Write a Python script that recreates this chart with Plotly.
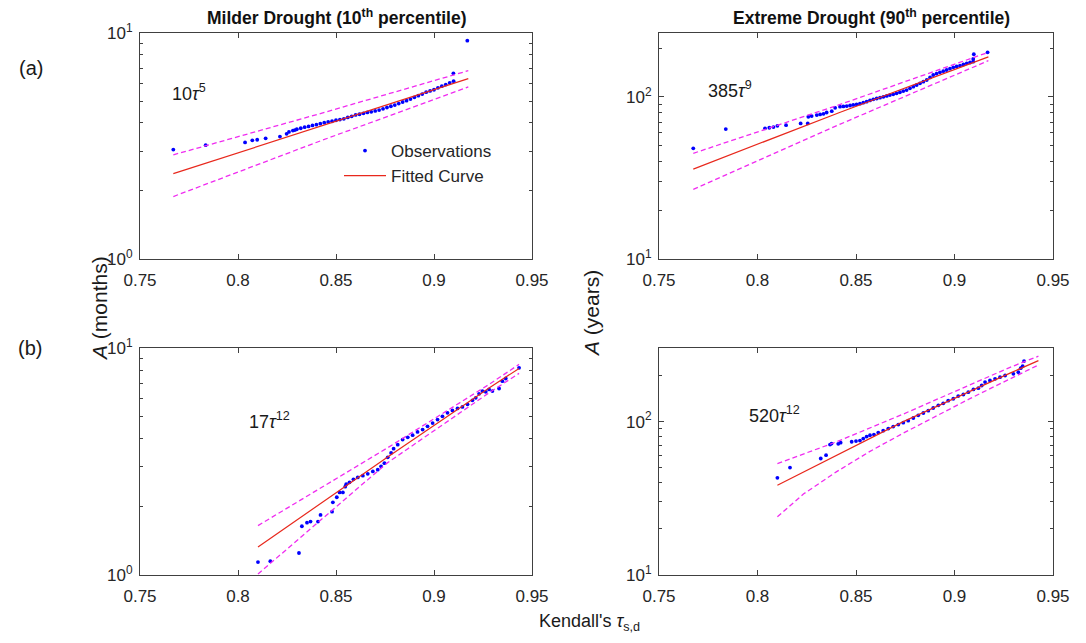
import plotly.graph_objects as go

W, H = 1086, 643

# ---------------- data: (a) Milder drought, A in months ----------------
mild_a_tau = [0.767, 0.7835, 0.8036, 0.8073, 0.8098, 0.8141, 0.8214, 0.8248, 0.826,
              0.828, 0.829, 0.830, 0.832, 0.834, 0.836, 0.838, 0.840, 0.842, 0.844, 0.846,
              0.848, 0.850, 0.852, 0.854, 0.856, 0.858, 0.860, 0.862, 0.864, 0.866,
              0.868, 0.870, 0.872, 0.874, 0.876, 0.878, 0.880, 0.882, 0.884, 0.886,
              0.888, 0.890, 0.892, 0.894, 0.896, 0.898, 0.900, 0.902, 0.904, 0.906,
              0.908, 0.910, 0.9099, 0.917]
mild_a_A = [3.05, 3.19, 3.28, 3.35, 3.37, 3.42, 3.48, 3.58, 3.65,
            3.70, 3.72, 3.75, 3.79, 3.83, 3.86, 3.90, 3.93, 3.97, 4.01, 4.04,
            4.07, 4.11, 4.14, 4.17, 4.23, 4.28, 4.34, 4.37, 4.41, 4.45,
            4.48, 4.52, 4.56, 4.62, 4.68, 4.74, 4.80, 4.87, 4.95, 5.02,
            5.10, 5.19, 5.28, 5.37, 5.47, 5.54, 5.61, 5.72, 5.82, 5.91,
            6.02, 6.12, 6.63, 9.25]
mild_a_fit_tau = [0.767, 0.842, 0.9175]
mild_a_fit = [2.385, 3.86, 6.28]
mild_a_up = [2.89, 4.40, 6.81]
mild_a_lo = [1.89, 3.33, 5.77]

# ---------------- data: (a) Extreme drought, A in years ----------------
ext_a_tau = [0.7674, 0.7839, 0.8038, 0.8060, 0.8081, 0.8101, 0.8145, 0.8219, 0.8255,
             0.8258, 0.8275, 0.8301, 0.8318, 0.8335, 0.8351, 0.8377, 0.8394, 0.8419,
             0.8436, 0.8453, 0.8470, 0.8486, 0.8503, 0.8520, 0.8537, 0.8554, 0.8571,
             0.8588, 0.8605, 0.8622, 0.8639, 0.8656, 0.8672, 0.8689, 0.8706, 0.8723,
             0.8740, 0.8757, 0.8774, 0.8791, 0.8808, 0.8825, 0.8842, 0.8859, 0.8876,
             0.8892, 0.8909, 0.8926, 0.8943, 0.8960, 0.8977, 0.8994, 0.9011, 0.9028,
             0.9045, 0.9062, 0.9079, 0.9095, 0.9095, 0.9098, 0.9168]
ext_a_A = [48.2, 63.4, 64.1, 64.6, 65.2, 66.4, 67.0, 68.7, 68.7,
           75.5, 76.2, 77.3, 78.0, 78.7, 80.2, 81.7, 85.7, 87.1,
           87.5, 87.9, 88.6, 89.3, 90.1, 91.0, 92.3, 93.6, 95.2,
           96.8, 97.9, 99.1, 100.3, 101.5, 102.7, 103.9, 105.4, 107.0,
           108.7, 110.4, 113.1, 115.8, 118.6, 121.4, 124.3, 127.3, 132.0,
           136.7, 139.3, 142.0, 144.4, 146.8, 149.6, 152.4, 154.2, 156.0,
           158.7, 161.4, 163.3, 165.2, 171.6, 183.6, 188.7]
ext_a_fit_tau = [0.7674, 0.842, 0.9172]
ext_a_fit = [35.9, 80.5, 177.0]
ext_a_up = [44.9, 90.0, 188.7]
ext_a_lo = [26.9, 68.0, 167.5]

# ---------------- data: (b) Milder drought, A in months ----------------
mild_b_tau = [0.8102, 0.8165, 0.8311, 0.8326, 0.8352, 0.8370, 0.8408, 0.8421, 0.8480,
              0.8484, 0.8504, 0.8518, 0.8535, 0.8547, 0.8552, 0.8569, 0.8589, 0.8611,
              0.8637, 0.8662, 0.8688, 0.8713, 0.8730, 0.8747, 0.8764, 0.8781, 0.8794,
              0.8815, 0.8840, 0.8866, 0.8891, 0.8916, 0.8942, 0.8967, 0.8993, 0.9018,
              0.9043, 0.9069, 0.9094, 0.9120, 0.9145, 0.9171, 0.9196, 0.9213, 0.9230,
              0.9247, 0.9264, 0.9281, 0.9298, 0.9332, 0.9349, 0.9366, 0.9434]
mild_b_A = [1.14, 1.15, 1.25, 1.64, 1.70, 1.72, 1.72, 1.84, 1.90,
            2.09, 2.20, 2.31, 2.31, 2.45, 2.51, 2.56, 2.64, 2.69,
            2.74, 2.79, 2.86, 2.91, 3.01, 3.11, 3.30, 3.45, 3.60,
            3.75, 3.95, 4.04, 4.13, 4.27, 4.37, 4.52, 4.67, 4.84,
            5.00, 5.18, 5.31, 5.42, 5.50, 5.65, 5.88, 6.03, 6.28,
            6.46, 6.41, 6.57, 6.46, 6.63, 7.14, 7.34, 8.18]
mild_b_fit_tau = [0.8102, 0.876, 0.9281, 0.9434]
mild_b_fit = [1.33, 3.29, 6.67, 8.13]
mild_b_up = [1.65, 3.62, 6.91, 8.47]
mild_b_lo = [1.01, 3.11, 6.35, 7.73]

# ---------------- data: (b) Extreme drought, A in years ----------------
ext_b_tau = [0.8101, 0.8165, 0.8321, 0.8348, 0.8368, 0.8376, 0.8410, 0.8422, 0.8478,
             0.8500, 0.8520, 0.8537, 0.8554, 0.8571, 0.8591, 0.8613, 0.8638, 0.8664,
             0.8689, 0.8715, 0.8740, 0.8765, 0.8791, 0.8816, 0.8842, 0.8867, 0.8892,
             0.8918, 0.8943, 0.8968, 0.8994, 0.9019, 0.9045, 0.9070, 0.9096, 0.9121,
             0.9138, 0.9155, 0.9180, 0.9206, 0.9231, 0.9257, 0.9299, 0.9324, 0.9336,
             0.9346, 0.9353]
ext_b_A = [43.0, 50.2, 57.5, 60.4, 70.9, 71.9, 71.7, 72.9, 73.9,
           74.7, 75.2, 77.5, 79.9, 81.5, 82.3, 84.8, 87.3, 90.1,
           92.8, 95.6, 98.5, 101.5, 105.6, 109.9, 113.8, 117.9, 122.7,
           127.7, 131.6, 136.9, 141.0, 146.8, 150.3, 155.7, 162.2, 165.3,
           172.0, 181.0, 185.5, 190.1, 194.9, 199.8, 205.0, 210.0, 223.0,
           230.0, 248.0]
ext_b_fit_tau = [0.8101, 0.874, 0.9282, 0.9426]
ext_b_fit = [38.5, 100.0, 207.0, 250.0]
ext_b_up_tau = [0.8101, 0.8402, 0.874, 0.9078, 0.9282, 0.9426]
ext_b_up = [53.3, 73.9, 112.0, 174.0, 226.0, 267.0]
ext_b_lo_tau = [0.8101, 0.8233, 0.8402, 0.8571, 0.874, 0.8909, 0.9078, 0.9282, 0.9426]
ext_b_lo = [24.0, 33.7, 47.2, 64.0, 84.1, 109.6, 141.2, 190.0, 234.0]

x_ticks = [0.75, 0.8, 0.85, 0.9, 0.95]
x_ticktext = ["0.75", "0.8", "0.85", "0.9", "0.95"]

# ---------------- styling ----------------
FONT = "Arial, 'Liberation Sans', sans-serif"
TXT = "#262626"
FRAME = "#404040"
BLUE = "#0000FF"
RED = "#E8281C"
MAG = "#F02CF0"


def px_x(p):
    return p / W


def px_y(p):
    return 1 - p / H


fig = go.Figure()

panels = [
    ("x", "y", mild_a_tau, mild_a_A, mild_a_fit_tau, mild_a_fit, mild_a_fit_tau, mild_a_up, mild_a_fit_tau, mild_a_lo),
    ("x2", "y2", ext_a_tau, ext_a_A, ext_a_fit_tau, ext_a_fit, ext_a_fit_tau, ext_a_up, ext_a_fit_tau, ext_a_lo),
    ("x3", "y3", mild_b_tau, mild_b_A, mild_b_fit_tau, mild_b_fit, mild_b_fit_tau, mild_b_up, mild_b_fit_tau, mild_b_lo),
    ("x4", "y4", ext_b_tau, ext_b_A, ext_b_fit_tau, ext_b_fit, ext_b_up_tau, ext_b_up, ext_b_lo_tau, ext_b_lo),
]

for i, (xa, ya, t, a, ft, f, ut, u, lt, lo) in enumerate(panels):
    first = i == 0
    fig.add_trace(go.Scatter(x=t, y=a, mode="markers", xaxis=xa, yaxis=ya,
                             marker=dict(color=BLUE, size=3.8, line=dict(width=0)),
                             name="Observations", showlegend=first))
    fig.add_trace(go.Scatter(x=ft, y=f, mode="lines", xaxis=xa, yaxis=ya,
                             line=dict(color=RED, width=1.2),
                             name="Fitted Curve", showlegend=first))
    fig.add_trace(go.Scatter(x=ut, y=u, mode="lines", xaxis=xa, yaxis=ya,
                             line=dict(color=MAG, width=1.3, dash="5px,3px"),
                             showlegend=False))
    fig.add_trace(go.Scatter(x=lt, y=lo, mode="lines", xaxis=xa, yaxis=ya,
                             line=dict(color=MAG, width=1.3, dash="5px,3px"),
                             showlegend=False))

# axes geometry (pixels)
col_x = [(140, 532), (659, 1053)]
row_y = [(33, 259), (348, 575)]


def xaxis_cfg(col, anchor):
    x0, x1 = col_x[col]
    return dict(domain=[px_x(x0), px_x(x1)], anchor=anchor, range=[0.75, 0.95],
                tickmode="array", tickvals=x_ticks, ticktext=x_ticktext,
                ticks="inside", ticklen=5, tickcolor=FRAME, tickwidth=1,
                showline=True, linecolor=FRAME, linewidth=1, mirror="ticks",
                showgrid=False, zeroline=False, ticklabelstandoff=6,
                tickfont=dict(family=FONT, size=17, color=TXT))


def yaxis_cfg(row, anchor, rng, tv, tt, minor):
    y0, y1 = row_y[row]
    return dict(domain=[px_y(y1), px_y(y0)], anchor=anchor, type="log", range=rng,
                tickmode="array", tickvals=tv, ticktext=tt,
                ticks="inside", ticklen=5, tickcolor=FRAME, tickwidth=1,
                minor=dict(tickmode="array", tickvals=minor, ticks="inside", ticklen=3,
                           tickcolor=FRAME, tickwidth=1, showgrid=False),
                showline=True, linecolor=FRAME, linewidth=1, mirror="ticks",
                showgrid=False, zeroline=False, ticklabelstandoff=3,
                tickfont=dict(family=FONT, size=17, color=TXT))


months_tv = [1, 10]
months_tt = ["10<sup>0</sup>", "10<sup>1</sup>"]
months_minor = [2, 3, 4, 5, 6, 7, 8, 9]
years_tv = [10, 100]
years_tt = ["10<sup>1</sup>", "10<sup>2</sup>"]
years_minor = [20, 30, 40, 50, 60, 70, 80, 90, 200]

fig.update_layout(
    width=W, height=H,
    margin=dict(l=0, r=0, t=0, b=0, pad=0, autoexpand=False),
    paper_bgcolor="white", plot_bgcolor="white",
    font=dict(family=FONT, color=TXT),
    xaxis=xaxis_cfg(0, "y"),
    yaxis=yaxis_cfg(0, "x", [0, 1], months_tv, months_tt, months_minor),
    xaxis2=xaxis_cfg(1, "y2"),
    yaxis2=yaxis_cfg(0, "x2", [1, 2.395], years_tv, years_tt, years_minor),
    xaxis3=xaxis_cfg(0, "y3"),
    yaxis3=yaxis_cfg(1, "x3", [0, 1], months_tv, months_tt, months_minor),
    xaxis4=xaxis_cfg(1, "y4"),
    yaxis4=yaxis_cfg(1, "x4", [1, 2.48], years_tv, years_tt, years_minor),
    legend=dict(x=px_x(339), y=px_y(133), xanchor="left", yanchor="top",
                bgcolor="rgba(0,0,0,0)", borderwidth=0,
                font=dict(family=FONT, size=17, color=TXT),
                tracegroupgap=0, itemwidth=42),
    showlegend=True,
)

ann = []


def add_text(x, y, text, size, xanchor="center", yanchor="middle", angle=0):
    ann.append(dict(x=px_x(x), y=px_y(y), xref="paper", yref="paper", text=text,
                    showarrow=False, xanchor=xanchor, yanchor=yanchor, textangle=angle,
                    font=dict(family=FONT, size=size, color="#1a1a1a")))


TITLE_FONT = "'Liberation Sans Narrow', 'Arial Narrow', Arial, 'Liberation Sans', sans-serif"
ann.append(dict(x=px_x(337), y=px_y(17), xref="paper", yref="paper",
                text="<b>Milder Drought (10<sup>th</sup> percentile)</b>", showarrow=False,
                xanchor="center", yanchor="middle",
                font=dict(family=TITLE_FONT, size=17.5, color="#111111")))
ann.append(dict(x=px_x(871), y=px_y(17), xref="paper", yref="paper",
                text="<b>Extreme Drought (90<sup>th</sup> percentile)</b>", showarrow=False,
                xanchor="center", yanchor="middle",
                font=dict(family=TITLE_FONT, size=17.5, color="#111111")))

add_text(31, 68, "(a)", 20)
add_text(30, 348, "(b)", 20)
add_text(100, 309, "<i>A</i> (months)", 21, angle=-90)
add_text(591, 314, "<i>A</i> (years)", 21, angle=-90)
add_text(590, 622, "Kendall's <i>τ</i><sub>s,d</sub>", 18)

add_text(170, 92, "10<i>τ</i><sup>5</sup>", 18, xanchor="left")
add_text(706, 90, "385<i>τ</i><sup>9</sup>", 18, xanchor="left")
add_text(247, 420, "17<i>τ</i><sup>12</sup>", 18, xanchor="left")
add_text(747, 415, "520<i>τ</i><sup>12</sup>", 18, xanchor="left")

fig.update_layout(annotations=ann)

fig.write_html("out.html", config={"displayModeBar": False},
               post_script="document.body.style.margin='0px';")
